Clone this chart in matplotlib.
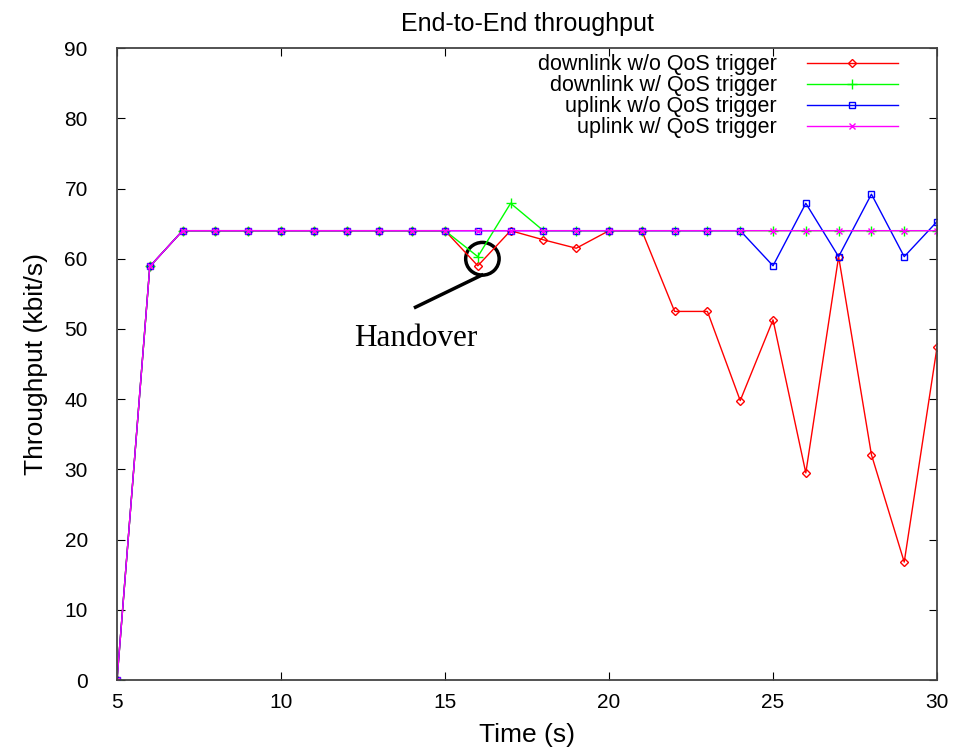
import matplotlib
matplotlib.use("Agg")
import matplotlib.pyplot as plt
from matplotlib.patches import Ellipse

# Datos
tiempo = list(range(5, 31))
down_sin_qos = [0, 58.9, 64, 64, 64, 64, 64, 64, 64, 64, 64, 59.0, 64, 62.7, 61.5, 64,
                64, 52.5, 52.5, 39.8, 51.3, 29.5, 60.3, 32.1, 16.8, 47.4]
down_con_qos = [0, 58.9, 64, 64, 64, 64, 64, 64, 64, 64, 64, 60.3, 67.9, 64, 64, 64,
                64, 64, 64, 64, 64, 64, 64, 64, 64, 64]
up_sin_qos = [0, 58.9, 64, 64, 64, 64, 64, 64, 64, 64, 64, 64, 64, 64, 64, 64,
              64, 64, 64, 64, 59.0, 67.9, 60.3, 69.2, 60.3, 65.3]
up_con_qos = [0, 58.9] + [64] * 24

etiquetas = ['downlink w/o QoS trigger', 'downlink w/ QoS trigger',
             'uplink w/o QoS trigger', 'uplink w/ QoS trigger']

plt.rcParams['font.family'] = ['Liberation Sans', 'DejaVu Sans']

fig = plt.figure(figsize=(9.67, 7.52), dpi=100)
ax = fig.add_axes([0.121, 0.0957, 0.848, 0.8403])

ax.plot(tiempo, down_sin_qos, color='#ff0000', lw=1, marker='D', ms=4, mfc='none', mew=1, label=etiquetas[0])
ax.plot(tiempo, down_con_qos, color='#00ff00', lw=1, marker='+', ms=7, mew=1, label=etiquetas[1])
ax.plot(tiempo, up_sin_qos, color='#0000ff', lw=1, marker='s', ms=4.5, mfc='none', mew=1, label=etiquetas[2])
ax.plot(tiempo, up_con_qos, color='#ff00ff', lw=1, marker='x', ms=5, mew=1, label=etiquetas[3])

# Anotacion del handover
ax.add_patch(Ellipse((16.14, 60.0), 1.02, 4.66, fill=False, ec='black', lw=2.5))
ax.plot([16.12, 14.1], [57.67, 53.1], color='black', lw=2.5)
ax.text(14.1, 48.6, 'Handover', family='Liberation Serif', fontsize=22.5, ha='center', va='center')

ax.set_xlim(5, 30)
ax.set_ylim(0, 90)
ax.set_xticks(range(5, 31, 5))
ax.set_yticks(range(0, 91, 10))
ax.tick_params(direction='in', top=True, right=True, labelsize=15, length=6)
ax.tick_params(axis='x', pad=9)
ax.tick_params(axis='y', pad=21)
for s in ax.spines.values():
    s.set_color('#444444')
    s.set_linewidth(1.3)

ax.set_xlabel('Time (s)', fontsize=19, labelpad=8)
ax.set_ylabel('Throughput (kbit/s)', fontsize=19, labelpad=12)
ax.set_title('End-to-End throughput', fontsize=18, pad=12)

ax.legend(loc='upper right', frameon=False, markerfirst=False, fontsize=15.5,
          handlelength=4.2, handletextpad=1.4, labelspacing=0.0,
          borderpad=0, borderaxespad=0, bbox_to_anchor=(0.952, 0.99))

fig.savefig('out.png', dpi=100)
